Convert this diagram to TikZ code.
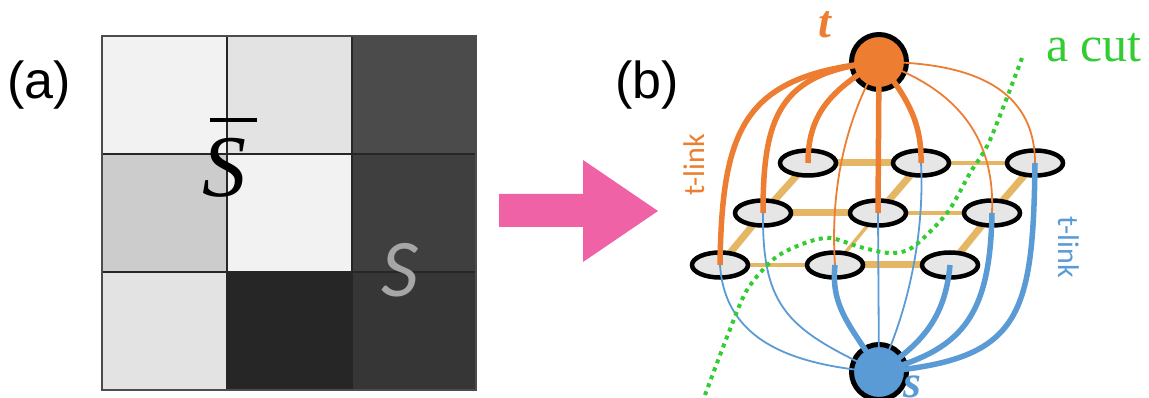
\documentclass[tikz,border=0pt]{standalone}
\usepackage{fontspec}
\setmainfont{Liberation Serif}
\newfontfamily\arialfont{Liberation Sans}
\newfontfamily\califont{Carlito}
\usetikzlibrary{shapes.geometric,backgrounds}
\definecolor{tor}{HTML}{ED7D31}
\definecolor{sbl}{HTML}{5B9BD5}
\definecolor{nlinkc}{HTML}{E5B765}
\definecolor{cutg}{HTML}{33CC33}
\definecolor{pinkarrow}{HTML}{EF62A6}
\definecolor{pixfill}{HTML}{E6E6E6}
\definecolor{sgrey}{HTML}{A6A6A6}
\definecolor{ca}{HTML}{F2F2F2}
\definecolor{cb}{HTML}{E3E3E3}
\definecolor{cc}{HTML}{4B4B4B}
\definecolor{cd}{HTML}{CCCCCC}
\definecolor{ce}{HTML}{3F3F3F}
\definecolor{cf}{HTML}{262626}
\definecolor{cg}{HTML}{363636}
\begin{document}
\begin{tikzpicture}[x=1pt,y=-1pt,
  txt/.style={inner sep=0pt,outer sep=0pt},
  pix/.style={ellipse,draw=black,line width=4.5pt,fill=pixfill,minimum width=56pt,minimum height=25pt,inner sep=0pt},
  term/.style={circle,draw=black,line width=5pt,minimum size=55pt,inner sep=0pt},
  nthick/.style={draw=nlinkc,line width=7pt},
  nthin/.style={draw=nlinkc,line width=3.5pt},
  tthick/.style={draw=tor,line width=5.5pt},
  tthin/.style={draw=tor,line width=1.8pt},
  sthick/.style={draw=sbl,line width=5.5pt},
  sthin/.style={draw=sbl,line width=1.8pt},
  cutline/.style={draw=cutg,line width=4pt,dash pattern=on 4pt off 4.5pt}
]
\useasboundingbox (0,0) rectangle (1149,398);
% ---------- panel (a)
\fill[ca] (102,36) rectangle (227,154);
\fill[cb] (227,36) rectangle (352,154);
\fill[cc] (352,36) rectangle (476,154);
\fill[cd] (102,154) rectangle (227,272);
\fill[ca] (227,154) rectangle (352,272);
\fill[ce] (352,154) rectangle (476,272);
\fill[cb] (102,272) rectangle (227,390);
\fill[cf] (227,272) rectangle (352,390);
\fill[cg] (352,272) rectangle (476,390);
\draw[line width=1.3pt,black!85] (227,36) -- (227,390) (352,36) -- (352,390)
   (102,154) -- (476,154) (102,272) -- (476,272);
\draw[line width=2pt,black!70] (102,36) rectangle (476,390);
\node[txt,anchor=base] (sbar) at (224,197) {\fontsize{88}{90}\selectfont\rlap{\kern8pt\rule[75pt]{47pt}{3.5pt}}\textit{S}};
\node[txt,anchor=base west,text=sgrey] (sgray) at (381,297) {\califont\itshape\fontsize{82}{84}\selectfont S};
\node[txt,anchor=base west] (la) at (7,99) {\arialfont\fontsize{52}{56}\selectfont (a)};
% ---------- arrow
\fill[pinkarrow] (499,194) -- (583,194) -- (583,160) -- (658,211) -- (583,262) -- (583,227) -- (499,227) -- cycle;
% ---------- panel (b)
\node[txt,anchor=base west] (lb) at (615,99) {\arialfont\fontsize{52}{56}\selectfont (b)};
\node[pix] (b1) at (808,163) {};
\node[pix] (b2) at (921,163) {};
\node[pix] (b3) at (1035,163) {};
\node[pix] (m1) at (763,213) {};
\node[pix] (m2) at (878,213) {};
\node[pix] (m3) at (992,213) {};
\node[pix] (f1) at (720,265) {};
\node[pix] (f2) at (835,265) {};
\node[pix] (f3) at (950,265) {};
\node[term,fill=tor] (t) at (879,62) {};
\node[term,fill=sbl] (s) at (879,372) {};
\begin{scope}[on background layer]
\draw[nthick] (b1.center) -- (b2.center);
\draw[nthin] (b2.center) -- (b3.center);
\draw[nthick] (m1.center) -- (m2.center);
\draw[nthin] (m2.center) -- (m3.center);
\draw[nthin] (f1.center) -- (f2.center);
\draw[nthick] (f2.center) -- (f3.center);
\draw[nthick] (b1.center) -- (m1.center);
\draw[nthick] (m1.center) -- (f1.center);
\draw[nthick] (b2.center) -- (m2.center);
\draw[nthin] (m2.center) -- (f2.center);
\draw[nthick] (b3.center) -- (m3.center);
\draw[nthick] (m3.center) -- (f3.center);
\end{scope}
% t-links
\draw[tthick] (t.center) .. controls (745,75) and (722,125) .. (f1.center);
\draw[tthick] (t.center) .. controls (780,72) and (763,115) .. (m1.center);
\draw[tthick] (t.center) .. controls (830,90) and (808,115) .. (b1.center);
\draw[tthin] (t.center) .. controls (845,120) and (830,190) .. (f2.center);
\draw[tthick] (t.center) -- (m2.center);
\draw[tthick] (t.center) .. controls (905,95) and (922,120) .. (b2.center);
\draw[tthin] (t.center) .. controls (960,90) and (995,140) .. (m3.center);
\draw[tthin] (t.center) .. controls (990,62) and (1035,100) .. (b3.center);
% s-links
\draw[sthin] (f1.center) .. controls (725,340) and (790,365) .. (s.center);
\draw[sthin] (m1.center) .. controls (762,310) and (790,330) .. (s.center);
\draw[sthick] (f2.center) .. controls (830,310) and (855,330) .. (s.center);
\draw[sthin] (m2.center) -- (s.center);
\draw[sthin] (b2.center) .. controls (925,240) and (905,320) .. (s.center);
\draw[sthick] (f3.center) .. controls (945,320) and (920,345) .. (s.center);
\draw[sthick] (m3.center) .. controls (990,320) and (960,350) .. (s.center);
\draw[sthick] (b3.center) .. controls (1033,320) and (1020,360) .. (s.center);
% labels
\node[txt,anchor=base west,text=tor] (tlab) at (818,38) {\fontsize{46}{50}\selectfont\bfseries\itshape t};
\node[txt,anchor=base west,text=sbl] (slab) at (903,397) {\fontsize{46}{50}\selectfont\bfseries\itshape s};
\node[txt,rotate=90,text=tor] (tl1) at (694,165) {\califont\fontsize{30}{32}\selectfont t-link};
\node[txt,rotate=-90,text=sbl] (tl2) at (1069,247) {\califont\fontsize{30}{32}\selectfont t-link};
\node[txt,anchor=base west,text=cutg] (cutlab) at (1046,62) {\fontsize{50}{52}\selectfont a cut};
% cut
\draw[cutline] plot[smooth] coordinates {(1022,58) (990,140) (970,173) (947,213) (913,247) (890,253) (860,247) (830,238) (805,243) (775,258) (747,290) (727,337) (705,395)};
\end{tikzpicture}
\end{document}
